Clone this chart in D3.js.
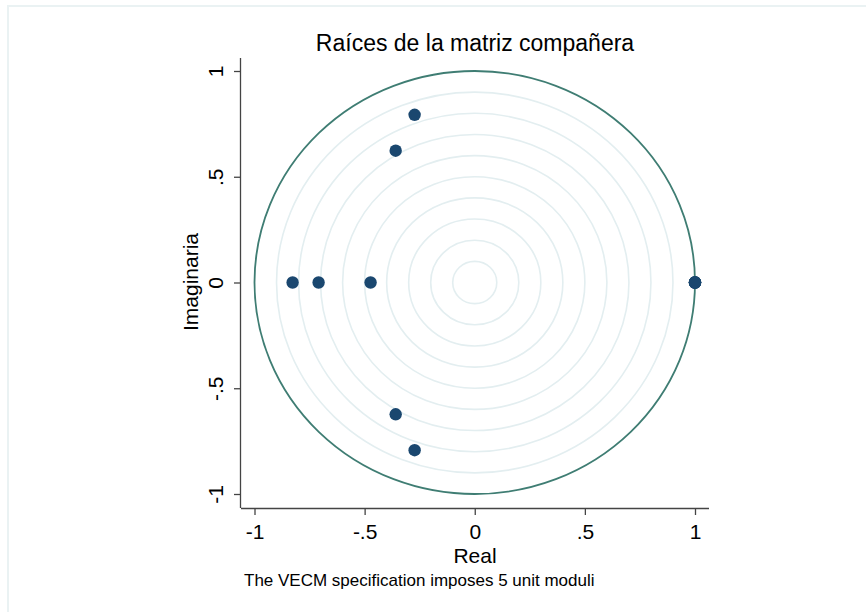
<!DOCTYPE html>
<html>
<head>
<meta charset="utf-8">
<script src="https://cdn.jsdelivr.net/npm/d3@7"></script>
<style>
  body { margin: 0; background: #fff; }
  text { font-family: "Liberation Sans", Arial, sans-serif; fill: #000; }
</style>
</head>
<body>
<svg id="chart" width="866" height="612"></svg>
<script>
// eigenvalues of the companion matrix
const realParts = [-0.273, -0.359, -0.827, -0.709, -0.473, 1.0, 1.0, 1.0, 1.0, 1.0, -0.359, -0.273];
const imagParts = [0.793, 0.623, 0, 0, 0, 0, 0, 0, 0, 0, -0.623, -0.793];
const gridRadii = [0.1, 0.2, 0.3, 0.4, 0.5, 0.6, 0.7, 0.8, 0.9];
const xTicks = [-1, -0.5, 0, 0.5, 1];
const yTicks = [-1, -0.5, 0, 0.5, 1];
const tickLabels = ['-1', '-.5', '0', '.5', '1'];

const svg = d3.select('#chart');

// faint outer frame
svg.append('rect')
  .attr('x', 8).attr('y', 6)
  .attr('width', 870).attr('height', 620)
  .attr('fill', 'none')
  .attr('stroke', '#eaf2f3')
  .attr('stroke-width', 2);

const x = d3.scaleLinear().domain([-1, 1]).range([254.5, 695]);
const y = d3.scaleLinear().domain([-1, 1]).range([494, 71]);

const plot = svg.append('g');

// concentric reference circles
const ell = (r) => plot.append('ellipse')
  .attr('cx', x(0)).attr('cy', y(0))
  .attr('rx', x(r) - x(0)).attr('ry', y(0) - y(r))
  .attr('fill', 'none');

gridRadii.forEach(r => ell(r).attr('stroke', '#e3eef0').attr('stroke-width', 1.6));
ell(1).attr('stroke', '#3f7d73').attr('stroke-width', 1.8);

// points
plot.selectAll('circle.root')
  .data(realParts.map((re, i) => ({ re, im: imagParts[i] })))
  .join('circle')
  .attr('class', 'root')
  .attr('cx', d => x(d.re))
  .attr('cy', d => y(d.im))
  .attr('r', 6.2)
  .attr('fill', '#1a476f');

// axes
const xAxis = d3.axisBottom(x).tickValues(xTicks)
  .tickFormat((d, i) => tickLabels[i]).tickSize(7);
const gx = svg.append('g').attr('transform', 'translate(0,508)').call(xAxis);
gx.select('.domain').attr('d', 'M241,0.5H709').attr('stroke', '#444').attr('stroke-width', 1.3);
gx.selectAll('.tick line').attr('stroke', '#444').attr('stroke-width', 1.3);
gx.selectAll('.tick text')
  .style('font-size', '21px').attr('fill', '#000')
  .attr('dy', null).attr('y', 31);

const yAxis = d3.axisLeft(y).tickValues(yTicks)
  .tickFormat((d, i) => tickLabels[i]).tickSize(7);
const gy = svg.append('g').attr('transform', 'translate(241,0)').call(yAxis);
gy.select('.domain').attr('d', 'M-0.5,58V508').attr('stroke', '#444').attr('stroke-width', 1.3);
gy.selectAll('.tick line').attr('stroke', '#444').attr('stroke-width', 1.3);
gy.selectAll('.tick text')
  .style('font-size', '21px').attr('fill', '#000')
  .attr('x', 0).attr('y', 0).attr('dy', null)
  .attr('text-anchor', 'middle')
  .attr('transform', 'translate(-18,0) rotate(-90)');

// titles
svg.append('text')
  .attr('x', 475).attr('y', 51)
  .attr('text-anchor', 'middle')
  .style('font-size', '23px')
  .text('Raíces de la matriz compañera');

svg.append('text')
  .attr('x', 475).attr('y', 563)
  .attr('text-anchor', 'middle')
  .style('font-size', '21px')
  .text('Real');

svg.append('text')
  .attr('transform', 'translate(198,282) rotate(-90)')
  .attr('text-anchor', 'middle')
  .style('font-size', '21px')
  .text('Imaginaria');

svg.append('text')
  .attr('x', 244).attr('y', 586)
  .style('font-size', '17px')
  .text('The VECM specification imposes 5 unit moduli');
</script>
</body>
</html>
